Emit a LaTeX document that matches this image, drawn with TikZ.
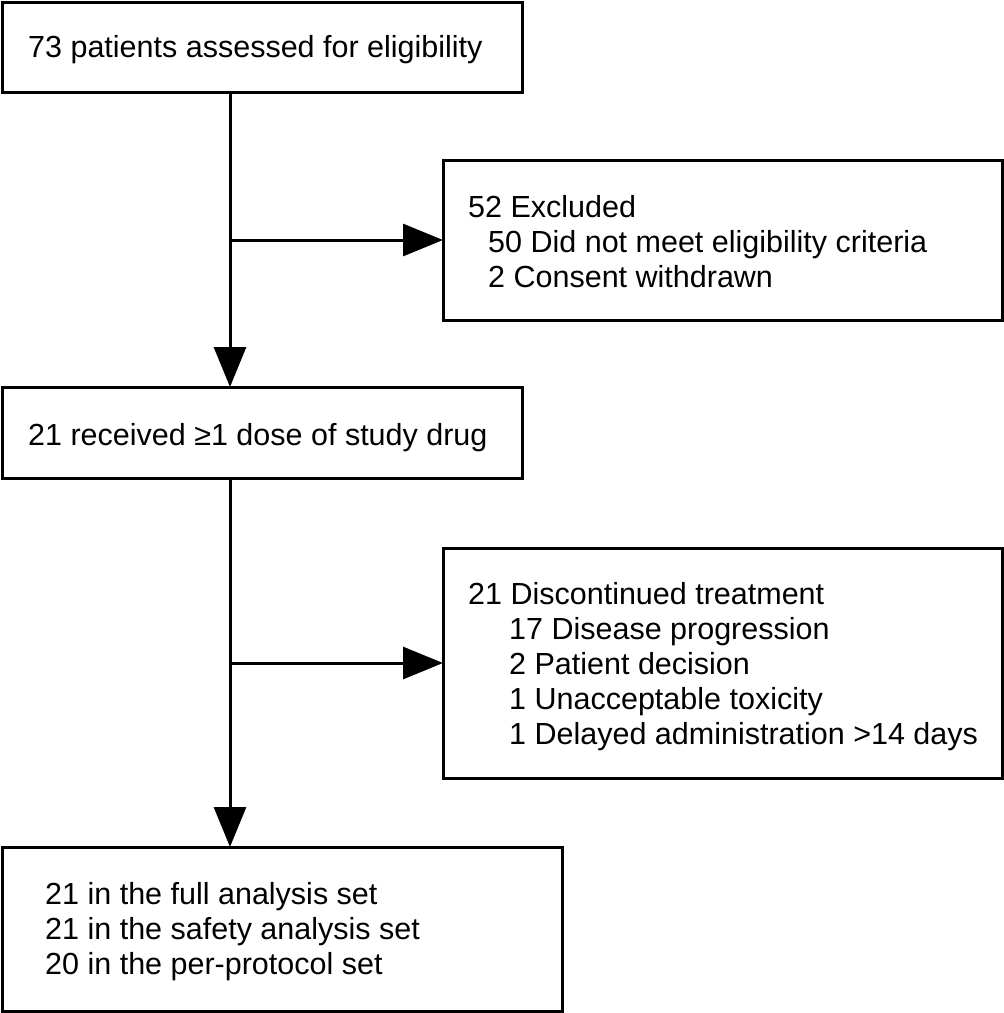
\documentclass[tikz,border=0pt]{standalone}
\usepackage{fontspec}
\setmainfont{Liberation Sans}
\usetikzlibrary{arrows.meta}
\begin{document}
\begin{tikzpicture}[x=1pt,y=-1pt,
  box/.style={draw,line width=3pt,inner sep=0pt},
  txt/.style={anchor=base west,inner sep=0pt,font=\fontsize{30.5}{35}\selectfont,align=left},
  arr/.style={line width=3pt,-{Triangle[length=40pt,width=32pt]}}]
\useasboundingbox (0,0) rectangle (1004,1013);
\draw[box] (2,2) rectangle (522,92);
\coordinate (b1) at (230,92);
\node[txt] (t1) at (28,57) {73 patients assessed for eligibility};
\draw[box] (443,160) rectangle (1002,320);
\coordinate (b2) at (443,240);
\node[txt] (t2a) at (468,217) {52 Excluded};
\node[txt] (t2b) at (488,252) {50 Did not meet eligibility criteria};
\node[txt] (t2c) at (488,287) {2 Consent withdrawn};
\draw[box] (2,387) rectangle (522,478);
\coordinate (b3t) at (230,387);
\coordinate (b3b) at (230,478);
\node[txt] (t3) at (28,445) {21 received ≥1 dose of study drug};
\draw[box] (443,548) rectangle (1002,778);
\coordinate (b4) at (443,663);
\node[txt] (t4a) at (468,604) {21 Discontinued treatment};
\node[txt] (t4b) at (509,639) {17 Disease progression};
\node[txt] (t4c) at (509,674) {2 Patient decision};
\node[txt] (t4d) at (509,709) {1 Unacceptable toxicity};
\node[txt] (t4e) at (509,744) {1 Delayed administration >14 days};
\draw[box] (2,847) rectangle (562,1011);
\coordinate (b5) at (230,847);
\node[txt] (t5a) at (45,904) {21 in the full analysis set};
\node[txt] (t5b) at (45,939) {21 in the safety analysis set};
\node[txt] (t5c) at (45,974) {20 in the per-protocol set};
\coordinate (j1) at (230,240);
\coordinate (j2) at (230,663);
\draw[arr] (b1) -- (b3t);
\draw[arr] (j1) -- (b2);
\draw[arr] (b3b) -- (b5);
\draw[arr] (j2) -- (b4);
\end{tikzpicture}
\end{document}
